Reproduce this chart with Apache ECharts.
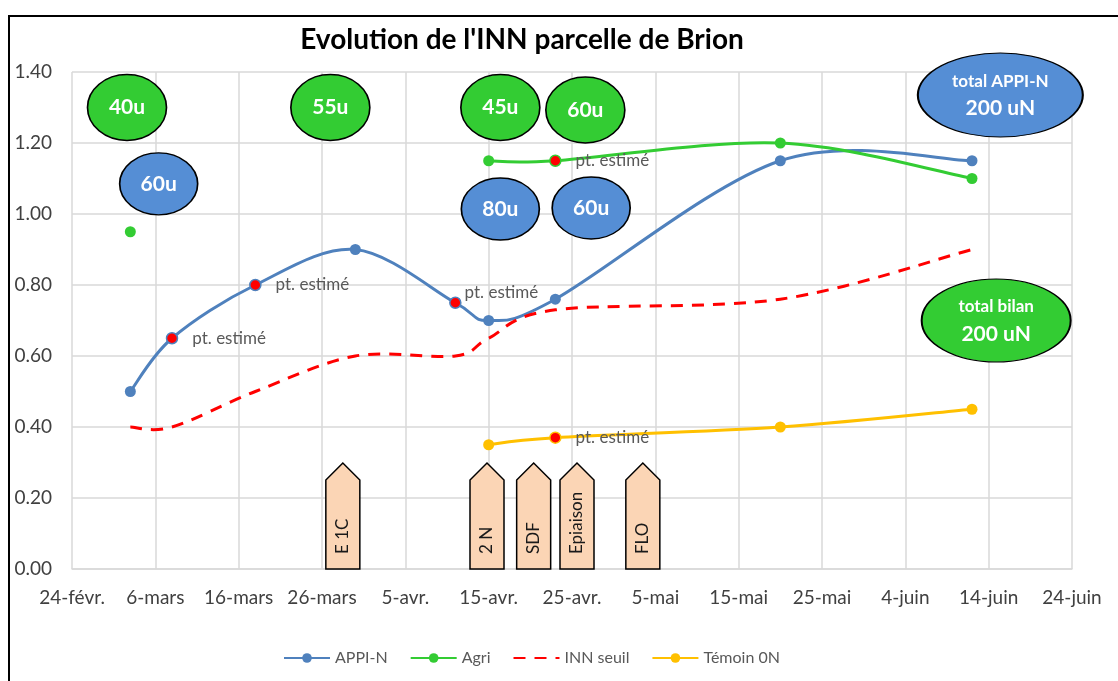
<!DOCTYPE html>
<html>
<head>
<meta charset="utf-8">
<script src="https://cdn.jsdelivr.net/npm/echarts@6/dist/echarts.min.js"></script>
<style>
  html, body { margin: 0; padding: 0; background: #fff; }
  #chart { width: 1118px; height: 681px; }
</style>
</head>
<body>
<div id="chart"></div>
<script>
const startDate = "2021-02-24"
const tickLabels = ["24-févr.", "6-mars", "16-mars", "26-mars", "5-avr.", "15-avr.", "25-avr.",
  "5-mai", "15-mai", "25-mai", "4-juin", "14-juin", "24-juin"]

const dates = ["2021-03-03", "2021-03-08", "2021-03-18", "2021-03-30", "2021-04-11",
  "2021-04-15", "2021-04-23", "2021-05-20", "2021-06-12"]
const appiN = [0.50, 0.65, 0.80, 0.90, 0.75, 0.70, 0.76, 1.15, 1.15]
const agri = [0.95, null, null, null, null, 1.15, 1.15, 1.20, 1.10]
const innSeuil = [0.40, 0.40, 0.50, 0.60, 0.60, 0.65, 0.73, 0.76, 0.90]
const temoin = [null, null, null, null, null, 0.35, 0.37, 0.40, 0.45]

// points estimés (index dans dates)
const appiEstimated = [1, 2, 4]
const agriEstimated = [6]
const temoinEstimated = [6]

// apports (bulles) : [jour depuis 24-févr, valeur, texte]
const bubblesAgri = [[6.6, 1.30, "40u"], [31.0, 1.30, "55u"], [51.4, 1.30, "45u"], [61.6, 1.293, "60u"]]
const bubblesAppi = [[10.4, 1.085, "60u"], [51.4, 1.014, "80u"], [62.3, 1.017, "60u"]]
const totals = [[111.4, 1.335, "total APPI-N", "200 uN"], [110.9, 0.70, "total bilan", "200 uN"]]

// stades : [jour, texte]
const stages = [[32.5, "E 1C"], [49.8, "2 N"], [55.4, "SDF"], [60.6, "Epiaison"], [68.5, "FLO"]]

const DAY = 86400000
const dayOf = d => (Date.parse(d) - Date.parse(startDate)) / DAY
const font = "Lato, 'Open Sans', sans-serif"
const BLUE = "#4f81bd"
const GREEN = "#33cc33"
const RED = "#ff0000"
const YELLOW = "#ffc000"

// courbes lissées façon Excel (Catmull-Rom), tracées avec les échelles du graphique
const curves = [
  { values: appiN, color: BLUE },
  { values: agri, color: GREEN },
  { values: innSeuil, color: RED, dash: [12, 9] },
  { values: temoin, color: YELLOW }
]

function smoothPath(pts) {
  let d = "M" + pts[0][0] + "," + pts[0][1]
  for (let i = 0; i < pts.length - 1; i++) {
    const p0 = pts[i - 1] || pts[i]
    const p1 = pts[i]
    const p2 = pts[i + 1]
    const p3 = pts[i + 2] || p2
    const c1 = [p1[0] + (p2[0] - p0[0]) / 6, p1[1] + (p2[1] - p0[1]) / 6]
    const c2 = [p2[0] - (p3[0] - p1[0]) / 6, p2[1] - (p3[1] - p1[1]) / 6]
    d += " C" + c1[0] + "," + c1[1] + " " + c2[0] + "," + c2[1] + " " + p2[0] + "," + p2[1]
  }
  return d
}

function lineData(values, estimated, color) {
  return dates.map((d, i) => {
    const v = values[i]
    if (v == null) return [dayOf(d), "-"]
    if (estimated && estimated.includes(i)) {
      return {
        value: [dayOf(d), v],
        itemStyle: { color: RED, borderColor: color, borderWidth: 1.5 },
        label: {
          show: true,
          position: "right",
          distance: 14,
          formatter: "pt. estimé",
          color: "#595959",
          fontSize: 17,
          fontFamily: font
        }
      }
    }
    return [dayOf(d), v]
  })
}

function bubbleSeries(list, color, size) {
  return {
    type: "scatter",
    z: 5,
    silent: true,
    symbol: "circle",
    symbolSize: size,
    itemStyle: { color, borderColor: "#000", borderWidth: 1.5, opacity: 1 },
    label: {
      show: true,
      position: "inside",
      formatter: p => p.value[2],
      color: "#fff",
      fontSize: 21,
      fontWeight: "bold",
      fontFamily: font
    },
    data: list
  }
}

function lineSeries(name, values, estimated, color, extra) {
  return Object.assign({
    name,
    type: "line",
    z: 3,
    symbol: "circle",
    symbolSize: 11,
    lineStyle: { width: 3, opacity: 0 },
    data: lineData(values, estimated, color)
  }, extra)
}

const chart = echarts.init(document.getElementById("chart"))

const appiSeries = lineSeries("APPI-N", appiN, appiEstimated, BLUE)
// étiquette du point du 11 avr. placée au-dessus
appiSeries.data[4].label.distance = 3
appiSeries.data[4].label.offset = [0, -10]

chart.setOption({
  animation: false,
  color: [BLUE, GREEN, RED, YELLOW],
  title: {
    text: "Evolution de l'INN parcelle de Brion",
    left: 517,
    top: 21,
    textAlign: "center",
    textStyle: { fontSize: 28, fontWeight: "bold", color: "#000", fontFamily: font }
  },
  graphic: [{
    type: "rect",
    shape: { x: 9, y: 16, width: 1200, height: 800 },
    style: { fill: "none", stroke: "#000", lineWidth: 2 },
    silent: true
  }],
  legend: {
    data: ["APPI-N", "Agri", { name: "INN seuil", itemStyle: { opacity: 0 } }, "Témoin 0N"],
    left: 278,
    bottom: 10,
    itemWidth: 46,
    itemHeight: 12,
    itemGap: 22,
    lineStyle: { opacity: 1 },
    textStyle: { color: "#595959", fontSize: 16, fontFamily: font }
  },
  grid: { left: 72, right: 46, top: 72, bottom: 112 },
  xAxis: {
    type: "value",
    min: 0,
    max: 120,
    interval: 10,
    axisLine: { show: true, lineStyle: { color: "#d9d9d9", width: 1.5 } },
    axisTick: { show: false },
    axisLabel: {
      color: "#404040",
      fontSize: 19,
      fontFamily: font,
      margin: 19,
      formatter: v => tickLabels[Math.round(v / 10)]
    },
    splitLine: { show: true, lineStyle: { color: "#d9d9d9", width: 1.5 } }
  },
  yAxis: {
    type: "value",
    min: 0,
    max: 1.4,
    interval: 0.2,
    axisLine: { show: false },
    axisTick: { show: false },
    axisLabel: {
      color: "#404040",
      fontSize: 19,
      fontFamily: font,
      margin: 20,
      formatter: v => v.toFixed(2)
    },
    splitLine: { lineStyle: { color: "#d9d9d9", width: 1.5 } }
  },
  series: [
    appiSeries,
    lineSeries("Agri", agri, agriEstimated, GREEN),
    lineSeries("INN seuil", innSeuil, null, RED, { symbol: "none", lineStyle: { width: 3, type: [12, 9], opacity: 0 } }),
    lineSeries("Témoin 0N", temoin, temoinEstimated, YELLOW),
    {
      type: "custom",
      z: 2,
      silent: true,
      renderItem: (params, api) => {
        const c = curves[params.dataIndex]
        const runs = []
        let run = []
        dates.forEach((d, i) => {
          const v = c.values[i]
          if (v == null) {
            if (run.length) runs.push(run)
            run = []
          } else {
            run.push(api.coord([dayOf(d), v]))
          }
        })
        if (run.length) runs.push(run)
        return {
          type: "group",
          children: runs.filter(r => r.length > 1).map(r => ({
            type: "path",
            shape: { pathData: smoothPath(r) },
            style: { fill: "none", stroke: c.color, lineWidth: 3, lineDash: c.dash || null }
          }))
        }
      },
      data: curves.map((c, i) => [i, 0])
    },
    bubbleSeries(bubblesAgri, GREEN, [79, 66]),
    bubbleSeries(bubblesAppi, "#558ed5", [78, 62]),
    {
      type: "scatter",
      z: 5,
      silent: true,
      symbol: "circle",
      itemStyle: { borderColor: "#000", borderWidth: 1.5, opacity: 1 },
      label: {
        show: true,
        position: "inside",
        formatter: p => "{a|" + p.value[2] + "}\n{b|" + p.value[3] + "}",
        rich: {
          a: { color: "#fff", fontSize: 17, fontWeight: "bold", fontFamily: font, lineHeight: 27 },
          b: { color: "#fff", fontSize: 21, fontWeight: "bold", fontFamily: font, lineHeight: 27 }
        }
      },
      data: [
        { value: totals[0], symbolSize: [165, 84], itemStyle: { color: "#558ed5" } },
        { value: totals[1], symbolSize: [149, 83], itemStyle: { color: GREEN } }
      ]
    },
    {
      type: "custom",
      z: 4,
      silent: true,
      renderItem: (params, api) => {
        const p = api.coord([api.value(0), 0])
        const x = p[0], y = p[1]
        return {
          type: "group",
          children: [
            {
              type: "polygon",
              shape: { points: [[x - 17, y], [x - 17, y - 89], [x, y - 106], [x + 17, y - 89], [x + 17, y]] },
              style: { fill: "#fbd5b5", stroke: "#000", lineWidth: 1.5 }
            },
            {
              type: "text",
              x: x,
              y: y - 15,
              rotation: Math.PI / 2,
              style: {
                text: stages[params.dataIndex][1],
                fill: "#1a1a1a",
                font: "17px " + font,
                align: "left",
                verticalAlign: "middle"
              }
            }
          ]
        }
      },
      data: stages.map(s => [s[0], 0])
    }
  ]
})
</script>
</body>
</html>
